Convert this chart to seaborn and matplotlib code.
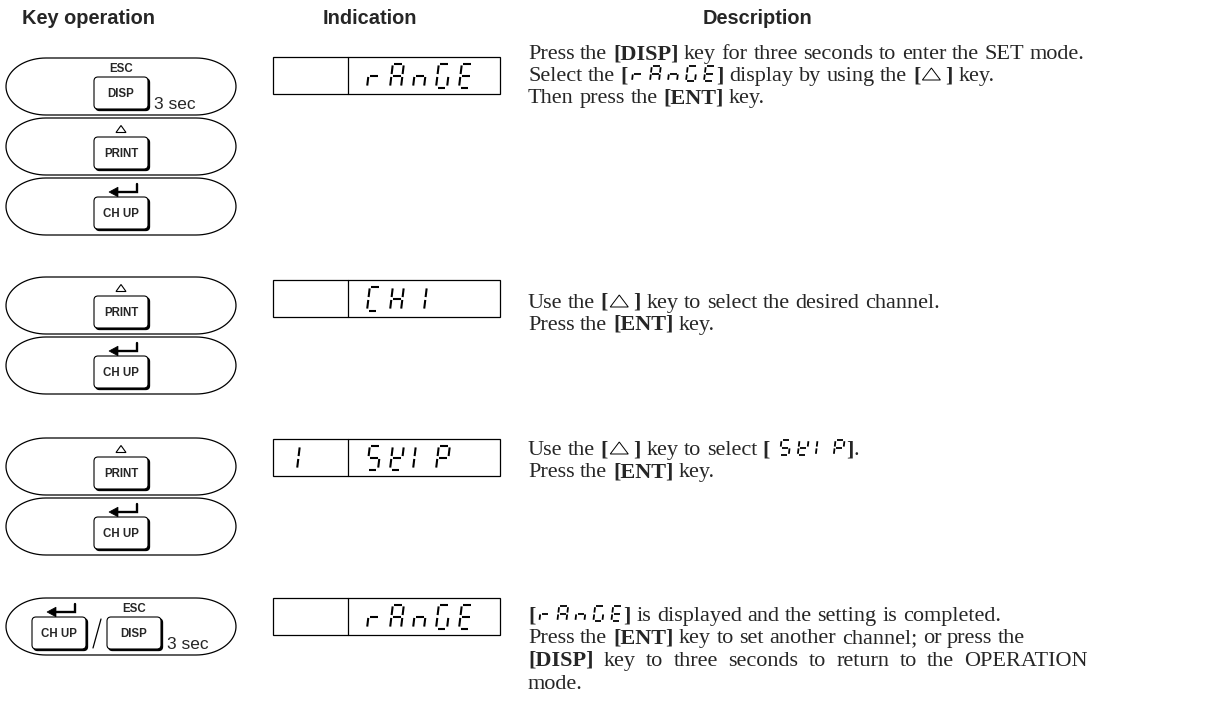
import re

import numpy as np
import matplotlib
matplotlib.use("Agg")
from matplotlib import pyplot as plt
from matplotlib.patches import Polygon, Rectangle, FancyBboxPatch
import seaborn as sns

# ---- content -------------------------------------------------------------
HEADERS = ["Key operation", "Indication", "Description"]

# keys of each step, one pill per entry ("A/B" = two keys in one pill)
STEP_KEYS = [["DISP", "PRINT", "CH UP"],
             ["PRINT", "CH UP"],
             ["PRINT", "CH UP"],
             ["CH UP/DISP"]]
KEY_SIGNS = {"DISP": "ESC", "PRINT": "tri", "CH UP": "ret"}
HOLD_TEXT = "3 sec"

# seven segment display: small left part / main right part
DISPLAY_LEFT = ["", "", "1", ""]
DISPLAY_RIGHT = ["rAnGE", "CH1", "SKIP", "rAnGE"]

# **bold**, {seven segment}, ^ = up key triangle
DESCRIPTION = [
    ["Press the **[DISP]** key for three seconds to enter the SET mode.",
     "Select the **[**{rAnGE}**]** display by using the **[**^**]** key.",
     "Then press the **[ENT]** key."],
    ["Use the **[**^**]** key to select the desired channel.",
     "Press the **[ENT]** key."],
    ["Use the **[**^**]** key to select **[** {SKIP}**]**.",
     "Press the **[ENT]** key."],
    ["**[**{rAnGE}**]** is displayed and the setting is completed.",
     "Press the **[ENT]** key to set another channel; or press the",
     "**[DISP]** key to three seconds to return to the OPERATION",
     "mode."],
]
JUSTIFIED = {(3, 2)}

CHAR_SEGS = {"r": "eg", "A": "abcefg", "n": "ceg", "G": "acdef", "E": "adefg",
             "C": "adef", "H": "bcefg", "1": "bc", "S": "acdfg", "K": "bdefg",
             "I": "ef", "P": "abefg", " ": ""}

# ---- layout ---------------------------------------------------------------
W, H = 1214, 715
PILL_TOPS = [[58, 118, 178], [277, 337], [438, 498], [598]]
BOX_TOPS = [57, 280, 439, 598]
LINE_Y = [[59, 81, 103], [308, 330], [455, 477], [621, 643, 666, 689]]
DESC_X, DESC_RIGHT = 528, 1088

sns.set_theme(style="white")
plt.rcParams["font.family"] = ["Liberation Sans", "DejaVu Sans"]
SERIF = ["Liberation Serif", "DejaVu Serif"]

fig = plt.figure(figsize=(W / 100, H / 100), dpi=100)
ax = fig.add_axes([0, 0, 1, 1])
ax.set_xlim(0, W)
ax.set_ylim(H, 0)
ax.axis("off")
renderer = fig.canvas.get_renderer()

SEGS = {"a": ((0.14, 1), (0.86, 1)), "b": ((1, 0.92), (1, 0.56)),
        "c": ((1, 0.44), (1, 0.08)), "d": ((0.14, 0), (0.86, 0)),
        "e": ((0, 0.44), (0, 0.08)), "f": ((0, 0.92), (0, 0.56)),
        "g": ((0.14, 0.5), (0.86, 0.5))}


def seg_char(x, ybase, ch, w, h, lw):
    skew = 0.12 * h
    for s in CHAR_SEGS[ch]:
        (u0, v0), (u1, v1) = SEGS[s]
        ax.plot([x + u0 * w + skew * v0, x + u1 * w + skew * v1],
                [ybase - v0 * h, ybase - v1 * h],
                color="black", lw=lw, solid_capstyle="butt")


def pill(x0, y0, w=230, h=57, rx=40):
    ry = h / 2
    cy = y0 + ry
    t1 = np.linspace(np.pi / 2, 3 * np.pi / 2, 40)
    t2 = np.linspace(-np.pi / 2, np.pi / 2, 40)
    left = np.c_[x0 + rx + rx * np.cos(t1), cy - ry * np.sin(t1)]
    right = np.c_[x0 + w - rx + rx * np.cos(t2), cy - ry * np.sin(t2)]
    ax.add_patch(Polygon(np.r_[left, right], closed=True, fc="white",
                         ec="black", lw=0.9))


def button(cx, cy, label, w=54, h=32):
    ax.add_patch(FancyBboxPatch((cx - w / 2 + 1.6, cy - h / 2 + 1.6), w, h,
                                boxstyle="round,pad=0,rounding_size=4",
                                fc="black", ec="black", lw=0.8))
    ax.add_patch(FancyBboxPatch((cx - w / 2, cy - h / 2), w, h,
                                boxstyle="round,pad=0,rounding_size=4",
                                fc="white", ec="black", lw=0.8))
    ax.text(cx, cy + 1, label, ha="center", va="center", fontsize=8.3,
            fontweight="bold")


def key_sign(cx, cy, kind):
    if kind == "ESC":
        ax.text(cx, cy, "ESC", ha="center", va="center", fontsize=8.3,
                fontweight="bold")
    elif kind == "tri":
        ax.add_patch(Polygon([[cx - 5, cy + 3.5], [cx + 5, cy + 3.5],
                              [cx, cy - 3.5]], closed=True, fill=False,
                             ec="black", lw=0.8))
    else:
        ax.plot([cx + 14, cx + 14, cx - 6], [cy - 5, cy + 3, cy + 3],
                color="black", lw=1.7, solid_joinstyle="miter")
        ax.add_patch(Polygon([[cx - 14, cy + 3], [cx - 5, cy - 1.8],
                              [cx - 5, cy + 7.8]], closed=True, fc="black",
                             ec="black", lw=0.5))


def key_in_pill(cx, top, name):
    key_sign(cx + 2 if KEY_SIGNS[name] == "ret" else cx, top + 11,
             KEY_SIGNS[name])
    button(cx, top + 35, name)
    if name == "DISP":
        ax.text(cx + 33, top + 51, HOLD_TEXT, ha="left", va="baseline",
                fontsize=12.5)


# ---- headers --------------------------------------------------------------
for txt, hx in zip(HEADERS, [88, 370, 757]):
    ax.text(hx, 18, txt, ha="center", va="center", fontsize=14.4,
            fontweight="bold")

# ---- key column -----------------------------------------------------------
for keys, tops in zip(STEP_KEYS, PILL_TOPS):
    for name, top in zip(keys, tops):
        pill(6, top)
        if "/" in name:
            k1, k2 = name.split("/")
            key_in_pill(59, top, k1)
            key_in_pill(134, top, k2)
            ax.plot([93, 101], [top + 50, top + 21], color="black", lw=0.9)
        else:
            key_in_pill(121, top, name)

# ---- display column -------------------------------------------------------
for lft, rgt, top in zip(DISPLAY_LEFT, DISPLAY_RIGHT, BOX_TOPS):
    ax.add_patch(Rectangle((273, top), 227, 37, fill=False, ec="black",
                           lw=0.9))
    ax.plot([348, 348], [top, top + 37], color="black", lw=0.9)
    base = top + 18.5 + 12
    for i, ch in enumerate(lft):
        seg_char(286 + 23 * i, base, ch, 11, 24, 1.5)
    for i, ch in enumerate(rgt):
        seg_char(367 + 23 * i, base, ch, 11, 24, 1.5)


# ---- description column ---------------------------------------------------
def pieces(line):
    out = []
    for tok in re.split(r"(\*\*.*?\*\*|\{.*?\}|\^)", line):
        if not tok:
            continue
        if tok.startswith("**"):
            kind, body = "bold", tok[2:-2]
        elif tok.startswith("{"):
            out.append(("seg", tok[1:-1]))
            continue
        elif tok == "^":
            out.append(("tri", None))
            continue
        else:
            kind, body = "normal", tok
        for p in re.split(r"( )", body):
            if p == " ":
                out.append(("space", None))
            elif p:
                out.append((kind, p))
    return out


def text_width(s, weight, size):
    t = ax.text(0, 0, s, fontsize=size, family=SERIF, fontweight=weight)
    w = t.get_window_extent(renderer).width
    t.remove()
    return w


def piece_width(kind, val, size):
    if kind == "space":
        return text_width("a a", "normal", size) - text_width("aa", "normal", size)
    if kind == "seg":
        return 4 + (len(val) - 1) * 18 + 9 + 3
    if kind == "tri":
        return 25
    return (text_width("|" + val + "|", kind, size)
            - text_width("||", kind, size))


def draw_line(y, line, size, justify=False):
    ps = pieces(line)
    ws = [piece_width(k, v, size) for k, v in ps]
    extra = 0
    if justify:
        nsp = sum(1 for k, _ in ps if k == "space")
        extra = (DESC_RIGHT - DESC_X - sum(ws)) / max(nsp, 1)
    x = DESC_X
    for (k, v), w in zip(ps, ws):
        if k in ("normal", "bold"):
            ax.text(x, y, v, ha="left", va="baseline", fontsize=size,
                    family=SERIF, fontweight=k)
        elif k == "seg":
            for i, ch in enumerate(v):
                seg_char(x + 4 + 18 * i, y, ch, 9, 15, 1.3)
        elif k == "tri":
            ax.add_patch(Polygon([[x + 2, y - 1], [x + 20, y - 1],
                                  [x + 11, y - 13]], closed=True, fill=False,
                                 ec="black", lw=0.7))
        x += w + (extra if k == "space" else 0)
    return x


# fit the font size so that the first line spans the column
probe = sum(piece_width(k, v, 14) for k, v in pieces(DESCRIPTION[0][0]))
DESC_SIZE = 14 * (DESC_RIGHT - DESC_X) / probe

for gi, (lines, ys) in enumerate(zip(DESCRIPTION, LINE_Y)):
    for li, (line, y) in enumerate(zip(lines, ys)):
        draw_line(y, line, DESC_SIZE, justify=(gi, li) in JUSTIFIED)

fig.savefig("out.png", dpi=100, facecolor="white")
